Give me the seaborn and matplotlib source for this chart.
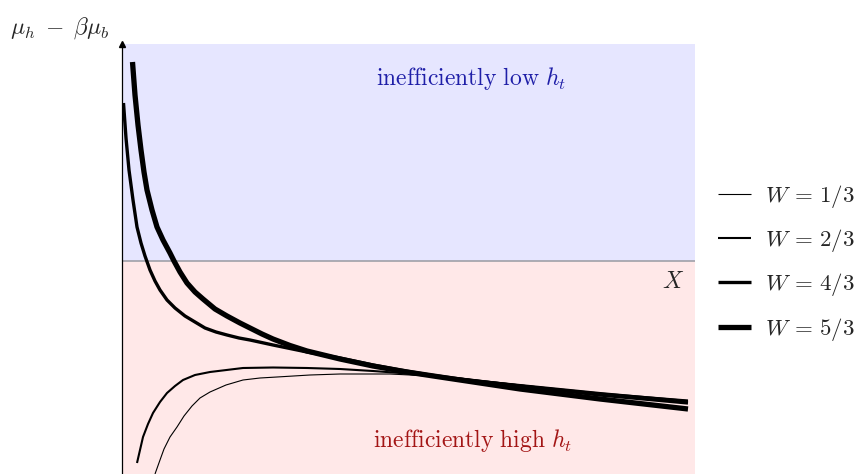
import numpy as np
import pandas as pd
import seaborn as sns
import matplotlib.pyplot as plt
from matplotlib.lines import Line2D

# Curve samples: X (horizontal) against mu_h - beta*mu_b (vertical), one series per W
x_w13 = [0.33, 0.38, 0.42, 0.48, 0.55, 0.62, 0.70, 0.78, 0.88, 1.04, 1.21, 1.38, 1.55,
         1.88, 2.18, 2.68, 3.08, 3.38, 3.98, 4.78, 5.66]
y_w13 = [-2.13, -1.99, -1.88, -1.76, -1.66, -1.55, -1.45, -1.37, -1.31, -1.24, -1.19, -1.17,
         -1.16, -1.14, -1.13, -1.13, -1.15, -1.17, -1.24, -1.32, -1.39]

x_w23 = [0.15, 0.18, 0.21, 0.26, 0.31, 0.38, 0.45, 0.53, 0.61, 0.73, 0.88, 1.21, 1.51,
         1.85, 2.18, 2.51, 2.78, 3.08, 3.38, 3.98, 4.78, 5.66]
y_w23 = [-2.02, -1.89, -1.76, -1.63, -1.52, -1.41, -1.32, -1.25, -1.19, -1.14, -1.11, -1.07,
         -1.065, -1.07, -1.08, -1.10, -1.12, -1.15, -1.18, -1.24, -1.32, -1.40]

x_w43 = [0.015, 0.04, 0.07, 0.11, 0.15, 0.19, 0.23, 0.28, 0.33, 0.38, 0.45, 0.53, 0.63,
         0.73, 0.83, 0.94, 1.05, 1.17, 1.28, 1.51, 1.85, 2.18, 2.51, 2.78, 3.08, 3.38, 3.98,
         4.78, 5.66]
y_w43 = [1.58, 1.23, 0.91, 0.61, 0.34, 0.18, 0.05, -0.09, -0.20, -0.29, -0.39, -0.47, -0.55,
         -0.61, -0.67, -0.71, -0.74, -0.77, -0.79, -0.84, -0.91, -0.97, -1.04, -1.09, -1.14,
         -1.18, -1.25, -1.34, -1.42]

x_w53 = [0.105, 0.13, 0.16, 0.19, 0.22, 0.25, 0.30, 0.35, 0.41, 0.48, 0.52, 0.58, 0.65,
         0.73, 0.81, 0.93, 1.05, 1.18, 1.28, 1.40, 1.51, 1.68, 1.85, 2.18, 2.51, 2.85, 3.18,
         3.38, 3.98, 4.78, 5.66]
y_w53 = [1.99, 1.66, 1.36, 1.11, 0.89, 0.71, 0.51, 0.34, 0.21, 0.08, 0.00, -0.11, -0.22,
         -0.31, -0.38, -0.48, -0.55, -0.62, -0.67, -0.73, -0.78, -0.845, -0.90, -0.98, -1.05,
         -1.11, -1.16, -1.19, -1.28, -1.38, -1.48]

w_labels = [r'$W\,=\,1/3$', r'$W\,=\,2/3$', r'$W\,=\,4/3$', r'$W\,=\,5/3$']
series = [(x_w13, y_w13), (x_w23, y_w23), (x_w43, y_w43), (x_w53, y_w53)]
widths = [0.8, 1.5, 2.4, 3.8]

sns.set_theme(style='white')
plt.rcParams['mathtext.fontset'] = 'cm'
plt.rcParams['font.family'] = ['DejaVu Serif']

fig = plt.figure(figsize=(8.61, 4.74), dpi=100)
ax = fig.add_axes([122 / 861, 0.0, 573 / 861, (474 - 44) / 474])
ax.set_xlim(0, 5.73)
ax.set_ylim(-2.13, 2.17)

# shaded regions above and below zero
ax.axhspan(0, 2.17, color='#E6E6FF', lw=0, zorder=0)
ax.axhspan(-2.13, 0, color='#FFE8E8', lw=0, zorder=0)
ax.axhline(0, color='#a0a0a8', lw=1.2, zorder=1)

for (xs, ys), lab, lw in zip(series, w_labels, widths):
    df = pd.DataFrame({'X': xs, 'gap': ys})
    sns.lineplot(data=df, x='X', y='gap', ax=ax, color='black', lw=lw,
                 estimator=None, sort=False, solid_capstyle='butt',
                 solid_joinstyle='round', zorder=3)

for s in ['top', 'right', 'bottom']:
    ax.spines[s].set_visible(False)
ax.spines['left'].set_color('black')
ax.spines['left'].set_linewidth(0.9)
ax.set_xticks([])
ax.set_yticks([])
ax.set_xlabel('')
ax.set_ylabel('')
ax.plot([0], [1], marker='^', color='black', markersize=4,
        transform=ax.transAxes, clip_on=False, zorder=5)

ax.text(3.49, 1.82, r'$\mathrm{inefficiently\ low}\ h_t$', color='#1f1fa8',
        fontsize=17, ha='center', va='center')
ax.text(3.51, -1.80, r'$\mathrm{inefficiently\ high}\ h_t$', color='#a31515',
        fontsize=17, ha='center', va='center')
ax.text(5.62, -0.20, r'$X$', fontsize=17, ha='right', va='center')

fig.text(10 / 861, 1 - 28 / 474, r'$\mu_h \;-\; \beta\mu_b$', fontsize=17,
         ha='left', va='center')

handles = [Line2D([], [], color='black', lw=lw, solid_capstyle='butt') for lw in widths]
fig.legend(handles, w_labels, loc='upper left', bbox_to_anchor=(702 / 861, 1 - 167 / 474),
           frameon=False, fontsize=16.5, handlelength=1.45, handletextpad=0.6,
           labelspacing=0.75, borderpad=0.2)

fig.savefig('out.png', dpi=100)
